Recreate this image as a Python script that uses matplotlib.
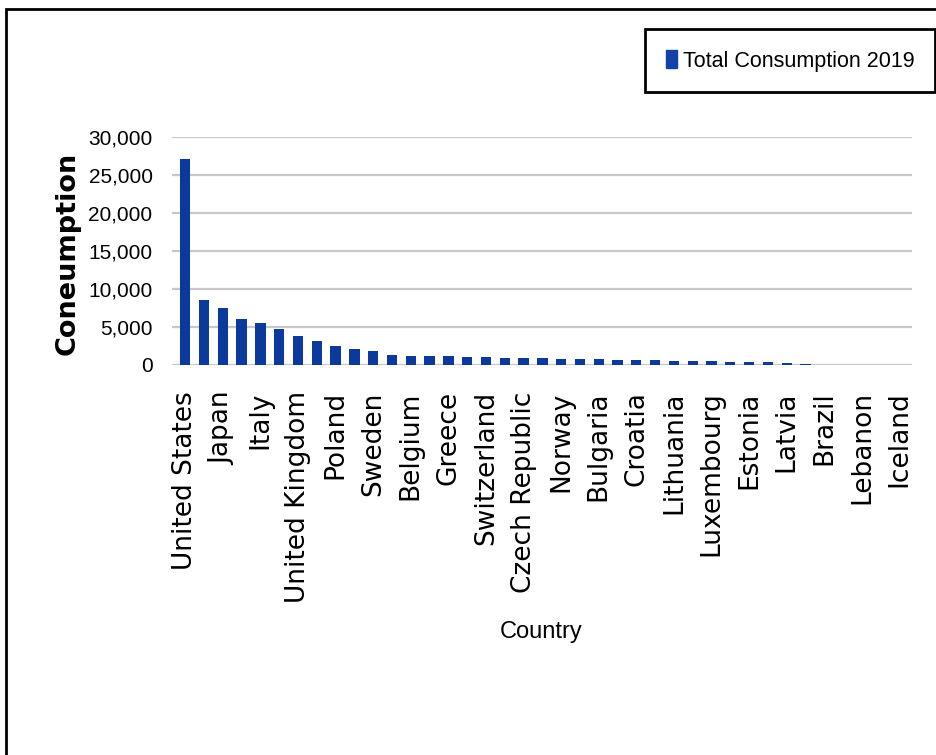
import matplotlib
matplotlib.use("Agg")
import matplotlib.pyplot as plt
import matplotlib.patches as mpatches
import numpy as np

# dane
countries = ["United States", "Germany", "Japan", "France", "Italy", "Spain",
             "United Kingdom", "Netherlands", "Poland", "Austria", "Sweden",
             "Finland", "Belgium", "Denmark", "Greece", "Portugal",
             "Switzerland", "Hungary", "Czech Republic", "Romania", "Norway",
             "Slovakia", "Bulgaria", "Ireland", "Croatia", "Slovenia",
             "Lithuania", "Serbia", "Luxembourg", "Cyprus", "Estonia", "Malta",
             "Latvia", "Turkey", "Brazil", "Israel", "Lebanon", "Canada",
             "Iceland"]
consumption = [27100, 8600, 7500, 6100, 5500, 4750, 3750, 3200, 2500, 2100,
               1850, 1300, 1200, 1150, 1120, 1080, 1020, 950, 900, 870,
               820, 760, 720, 680, 640, 600, 560, 530, 490, 450,
               410, 370, 320, 150, 0, 0, 0, 0, 0]
series_name = "Total Consumption 2019"
yticks = [0, 5000, 10000, 15000, 20000, 25000, 30000]

bar_color = "#0B3A9C"

fig = plt.figure(figsize=(9.37, 7.55), dpi=100)
ax = fig.add_axes([0.1836, 0.5166, 0.7894, 0.3019])

x = np.arange(len(countries))
ax.bar(x, consumption, width=0.55, color=bar_color, zorder=3)

ax.set_ylim(0, 30000)
ax.set_xlim(-0.7, len(countries) - 0.35)
ax.set_yticks(yticks)
ax.set_yticklabels([f"{v:,}" for v in yticks], fontfamily="Liberation Sans", fontsize=15)
ax.set_xticks(x[::2])
ax.set_xticklabels(countries[::2], rotation=90, fontfamily="DejaVu Sans", fontsize=19)
ax.tick_params(axis="both", length=0)
ax.tick_params(axis="y", pad=14)
ax.tick_params(axis="x", pad=19)
ax.grid(axis="y", color="#c8c8c8", linewidth=1.6, zorder=0)
for s in ax.spines.values():
    s.set_visible(False)

ax.set_ylabel("Coneumption", fontfamily="DejaVu Sans", fontweight="bold", fontsize=19.5)
ax.yaxis.set_label_coords(-0.123, 0.488)
fig.text(0.577, 0.163, "Country", fontfamily="Liberation Sans", fontsize=17, ha="center", va="center")

leg = fig.legend(handles=[mpatches.Patch(color="#1241A8", label=series_name)],
                 loc="upper right", bbox_to_anchor=(0.998, 0.961), borderaxespad=0,
                 prop={"family": "Liberation Sans", "size": 15.5}, fancybox=False,
                 handlelength=0.5, handleheight=0.95, handletextpad=0.3,
                 borderpad=0.95, framealpha=1)
leg.get_frame().set_edgecolor("black")
leg.get_frame().set_linewidth(2)

# ramka
fig.patches.append(mpatches.Rectangle((0.0065, -0.01), 1.1, 0.998, transform=fig.transFigure,
                                      fill=False, edgecolor="black", linewidth=2))

plt.savefig("out.png", dpi=100)
